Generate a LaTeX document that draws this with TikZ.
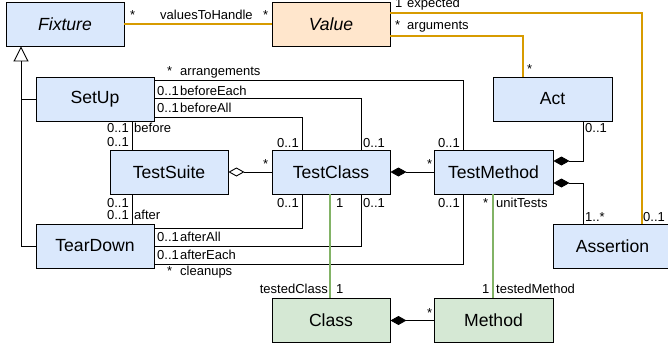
\documentclass[tikz,border=0pt]{standalone}
\usepackage{fontspec}
\setmainfont{Liberation Sans}
\usetikzlibrary{arrows.meta}
\definecolor{bluefill}{HTML}{DAE8FC}
\definecolor{greenfill}{HTML}{D5E8D4}
\definecolor{orangefill}{HTML}{FFE6CC}
\definecolor{orangeline}{HTML}{D79B00}
\definecolor{greenline}{HTML}{82B366}
\tikzset{
  cls/.style={draw=black, line width=0.9pt, minimum width=118pt, minimum height=44pt, inner sep=0pt, font=\fontsize{17.6}{20}\selectfont},
  bluecls/.style={cls, fill=bluefill},
  greencls/.style={cls, fill=greenfill},
  orangecls/.style={cls, fill=orangefill},
  conn/.style={draw=black, line width=0.9pt},
  oconn/.style={draw=orangeline, line width=1.25pt},
  gconn/.style={draw=greenline, line width=1.3pt},
  lbl/.style={inner sep=0pt, font=\fontsize{13}{15}\selectfont},
  lw/.style={lbl, anchor=base west},
  le/.style={lbl, anchor=base east},
  comp/.style={-{Diamond[length=16pt,width=9pt]}},
  aggr/.style={-{Diamond[open,length=16pt,width=9pt]}},
  gen/.style={-{Triangle[open,length=15pt,width=15pt]}}
}
\begin{document}
\begin{tikzpicture}[x=1pt,y=-1pt]
\useasboundingbox (0,0) rectangle (668,345);
% classes
\node[bluecls] (Fixture) at (65,24) {\itshape Fixture};
\node[orangecls] (Value) at (331,24) {\itshape Value};
\node[bluecls] (SetUp) at (95,99) {SetUp};
\node[bluecls, minimum width=119pt] (Act) at (552.5,99) {Act};
\node[bluecls] (TestSuite) at (169,172) {TestSuite};
\node[bluecls] (TestClass) at (331,172) {TestClass};
\node[bluecls, minimum width=119pt] (TestMethod) at (493.5,172) {TestMethod};
\node[bluecls] (TearDown) at (95,246) {TearDown};
\node[bluecls, minimum width=119pt] (Assertion) at (612.5,246) {Assertion};
\node[greencls] (Class) at (331,320.5) {Class};
\node[greencls, minimum width=119pt] (Method) at (493.5,320.5) {Method};

% orange associations
\draw[oconn] (Fixture.east) -- (Value.west);
\draw[oconn] ([yshift=11pt]Value.east) -| ([xshift=29.5pt]Assertion.north);
\draw[oconn] ([yshift=-12pt]Value.east) -| ([xshift=-29.5pt]Act.north);

% generalization
\coordinate (gj) at ([xshift=-44pt]Fixture.south |- SetUp.west);
\draw[conn, gen] (TearDown.west) -| ([xshift=-44pt]Fixture.south);
\draw[conn] (SetUp.west) -- (gj);

% SetUp associations
\draw[conn] ([yshift=-4pt]SetUp.north east) -| ([xshift=-30.5pt]TestMethod.north);
\draw[conn] ([yshift=0.5pt]SetUp.east) -| ([xshift=30pt]TestClass.north);
\draw[conn] ([yshift=4pt]SetUp.south east) -| ([xshift=-29pt]TestClass.north);
\draw[conn] ([xshift=37pt]SetUp.south) -- ([xshift=-37pt]TestSuite.north);

% TearDown associations
\draw[conn] ([yshift=-5pt]TearDown.north east) -| ([xshift=-29pt]TestClass.south);
\draw[conn] (TearDown.east) -| ([xshift=30pt]TestClass.south);
\draw[conn] ([yshift=4pt]TearDown.south east) -| ([xshift=-30.5pt]TestMethod.south);
\draw[conn] ([xshift=37pt]TearDown.north) -- ([xshift=-37pt]TestSuite.south);

% aggregation / composition
\draw[conn, aggr] (TestClass.west) -- (TestSuite.east);
\draw[conn, comp] (TestMethod.west) -- (TestClass.east);
\draw[conn, comp] ([xshift=30.5pt]Act.south) |- ([yshift=11pt]TestMethod.east);
\draw[conn, comp] ([xshift=-29.5pt]Assertion.north) |- ([yshift=-11pt]TestMethod.east);
\draw[conn, comp] (Method.west) -- (Class.east);

% green associations
\draw[gconn] ([xshift=-1pt]TestClass.south) -- ([xshift=-1pt]Class.north);
\draw[gconn] ([xshift=-0.6pt]TestMethod.south) -- ([xshift=-0.6pt]Method.north);

% labels
\node[lw] (l1) at (130,19.5) {*};
\node[lw] (l2) at (160,19.5) {valuesToHandle};
\node[lw] (l3) at (263,19.5) {*};
\node[lw] (l4) at (395,8) {1};
\node[lw] (l5) at (407,8) {expected};
\node[lw] (l6) at (395,29.5) {*};
\node[lw] (l7) at (407,29.5) {arguments};
\node[lw] (l8) at (527,73) {*};
\node[lw] (l9) at (585,132) {0..1};
\node[lw] (l10) at (167,75) {*};
\node[lw] (l11) at (180,75) {arrangements};
\node[lw] (l12) at (157,95) {0..1};
\node[lw] (l13) at (180,95) {beforeEach};
\node[lw] (l14) at (157,112) {0..1};
\node[lw] (l15) at (180,112) {beforeAll};
\node[le] (l16) at (129,132) {0..1};
\node[lw] (l17) at (134,132) {before};
\node[le] (l18) at (129,146) {0..1};
\node[le] (l19) at (299,147) {0..1};
\node[lw] (l20) at (363,147) {0..1};
\node[le] (l21) at (460,147) {0..1};
\node[lw] (l22) at (263,168) {*};
\node[lw] (l23) at (427,168) {*};
\node[le] (l24) at (299,207) {0..1};
\node[lw] (l25) at (336,207) {1};
\node[lw] (l26) at (363,207) {0..1};
\node[le] (l27) at (460,207) {0..1};
\node[lw] (l28) at (483,207) {*};
\node[lw] (l29) at (496,207) {unitTests};
\node[lw] (l30) at (585,221) {1..*};
\node[lw] (l31) at (643,221) {0..1};
\node[le] (l32) at (129,207) {0..1};
\node[le] (l33) at (129,219) {0..1};
\node[lw] (l34) at (134,219) {after};
\node[lw] (l35) at (157,241) {0..1};
\node[lw] (l36) at (180,241) {afterAll};
\node[lw] (l37) at (157,259) {0..1};
\node[lw] (l38) at (180,259) {afterEach};
\node[lw] (l39) at (167,275) {*};
\node[lw] (l40) at (180,275) {cleanups};
\node[le] (l41) at (328,293) {testedClass};
\node[lw] (l42) at (336,293) {1};
\node[lw] (l43) at (482,293) {1};
\node[lw] (l44) at (496,293) {testedMethod};
\node[lw] (l45) at (427,317) {*};
\end{tikzpicture}
\end{document}
